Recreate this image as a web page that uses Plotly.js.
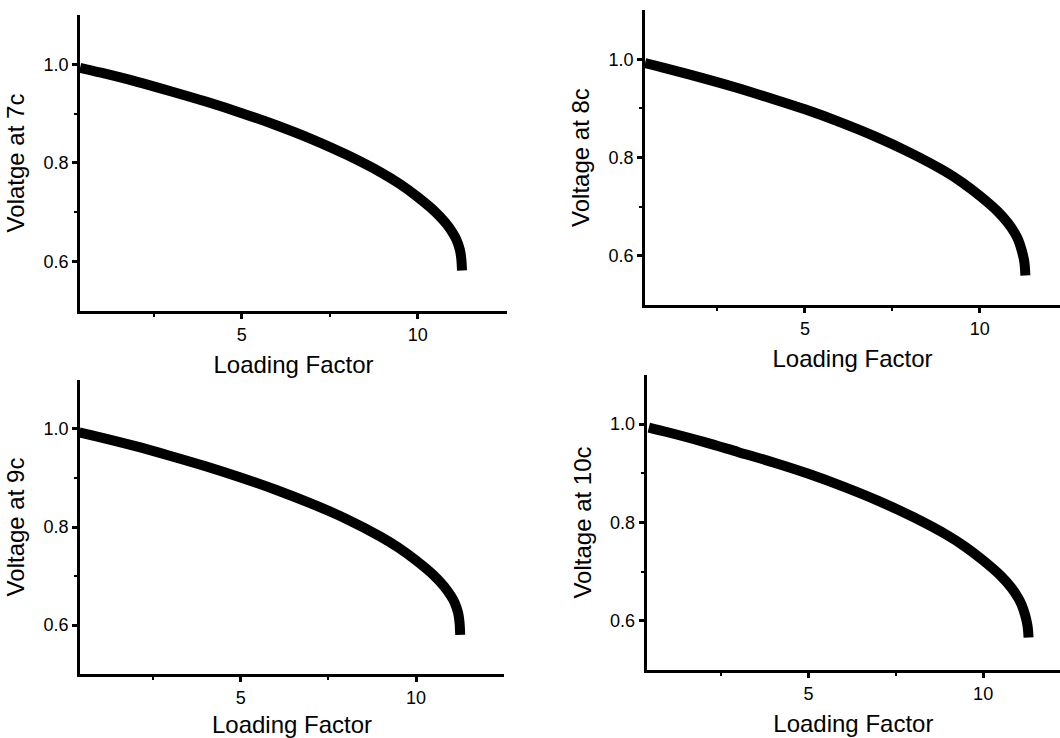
<!DOCTYPE html>
<html>
<head>
<meta charset="utf-8">
<script src="https://cdn.plot.ly/plotly-3.0.1.min.js"></script>
<style>html,body{margin:0;padding:0;background:#fff;}#chart{width:1060px;height:738px;}</style>
</head>
<body>
<div id="chart"></div>
<script>
// Loading factor values
const loading  = [0.4, 1, 2, 3, 4, 5, 6, 7, 8, 9, 9.5, 10, 10.5, 10.8, 11, 11.1, 11.2, 11.24, 11.26];
const loading2 = [0.43, 1, 2, 3, 4, 5, 6, 7, 8, 9, 9.5, 10, 10.5, 10.8, 11, 11.1, 11.2, 11.27, 11.3];
// Voltage readings
const v7c  = [0.993, 0.983, 0.965, 0.945, 0.924, 0.901, 0.876, 0.848, 0.816, 0.779, 0.757, 0.731, 0.701, 0.678, 0.658, 0.645, 0.624, 0.606, 0.582];
const v8c  = [0.992, 0.982, 0.963, 0.943, 0.921, 0.898, 0.872, 0.843, 0.810, 0.772, 0.749, 0.722, 0.691, 0.667, 0.646, 0.632, 0.610, 0.588, 0.560];
const v9c  = [0.993, 0.983, 0.965, 0.945, 0.924, 0.901, 0.876, 0.848, 0.817, 0.780, 0.758, 0.732, 0.702, 0.679, 0.659, 0.646, 0.625, 0.606, 0.580];
const v10c = [0.993, 0.983, 0.964, 0.943, 0.922, 0.899, 0.873, 0.844, 0.811, 0.773, 0.750, 0.723, 0.692, 0.668, 0.647, 0.633, 0.612, 0.590, 0.566];
// Labels
const yTitles = ["Volatge at 7c", "Voltage at 8c", "Voltage at 9c", "Voltage at 10c"];
const xTitle = "Loading Factor";
const xTickVals = [5, 10];
const xMinorVals = [2.5, 7.5];
const yTickVals = [0.6, 0.8, 1.0];
const yTickText = ["0.6", "0.8", "1.0"];
const yMinorVals = [0.7, 0.9];

const FONT = "Liberation Sans, Arial, sans-serif";

function xa(domain, range, anchor) {
  return {
    domain: domain, range: range, anchor: anchor,
    showline: true, linecolor: "#000", linewidth: 3,
    showgrid: false, zeroline: false,
    ticks: "outside", ticklen: 5, tickwidth: 3, tickcolor: "#000",
    tickvals: xTickVals, ticktext: xTickVals.map(String),
    minor: {tickvals: xMinorVals, ticks: "outside", ticklen: 3, tickwidth: 2, tickcolor: "#000"},
    tickfont: {family: FONT, size: 18, color: "#000"},
    title: {text: xTitle, font: {family: FONT, size: 24, color: "#000"}, standoff: 13},
    automargin: false
  };
}
function ya(domain, anchor, title) {
  return {
    domain: domain, range: [0.5, 1.1], anchor: anchor,
    showline: true, linecolor: "#000", linewidth: 3,
    showgrid: false, zeroline: false,
    ticks: "outside", ticklen: 5, tickwidth: 3, tickcolor: "#000",
    tickvals: yTickVals, ticktext: yTickText,
    minor: {tickvals: yMinorVals, ticks: "outside", ticklen: 3, tickwidth: 2, tickcolor: "#000"},
    tickfont: {family: FONT, size: 18, color: "#000"},
    title: {text: title, font: {family: FONT, size: 24, color: "#000"}, standoff: 12},
    automargin: false
  };
}
function trace(x, y, xa, ya) {
  return {x: x, y: y, xaxis: xa, yaxis: ya, mode: "lines",
          line: {color: "#000", width: 10, shape: "spline", smoothing: 1}};
}

const data = [
  trace(loading, v7c, "x", "y"),
  trace(loading2, v8c, "x2", "y2"),
  trace(loading, v9c, "x3", "y3"),
  trace(loading2, v10c, "x4", "y4")
];

const layout = {
  width: 1060, height: 738,
  margin: {l: 0, r: 0, t: 0, b: 0},
  paper_bgcolor: "#fff", plot_bgcolor: "#fff",
  showlegend: false,
  xaxis:  xa([0.0755, 0.4783], [0.4, 12.54], "y"),
  yaxis:  ya([0.5786, 0.9797], "x", yTitles[0]),
  xaxis2: xa([0.6085, 1.0], [0.43, 12.29], "y2"),
  yaxis2: ya([0.5867, 0.9864], "x2", yTitles[1]),
  xaxis3: xa([0.0755, 0.4755], [0.42, 12.51], "y3"),
  yaxis3: ya([0.0867, 0.4851], "x3", yTitles[2]),
  xaxis4: xa([0.6101, 1.0], [0.37, 12.2], "y4"),
  yaxis4: ya([0.0921, 0.4919], "x4", yTitles[3])
};

Plotly.newPlot("chart", data, layout, {staticPlot: true, displayModeBar: false});
</script>
</body>
</html>
